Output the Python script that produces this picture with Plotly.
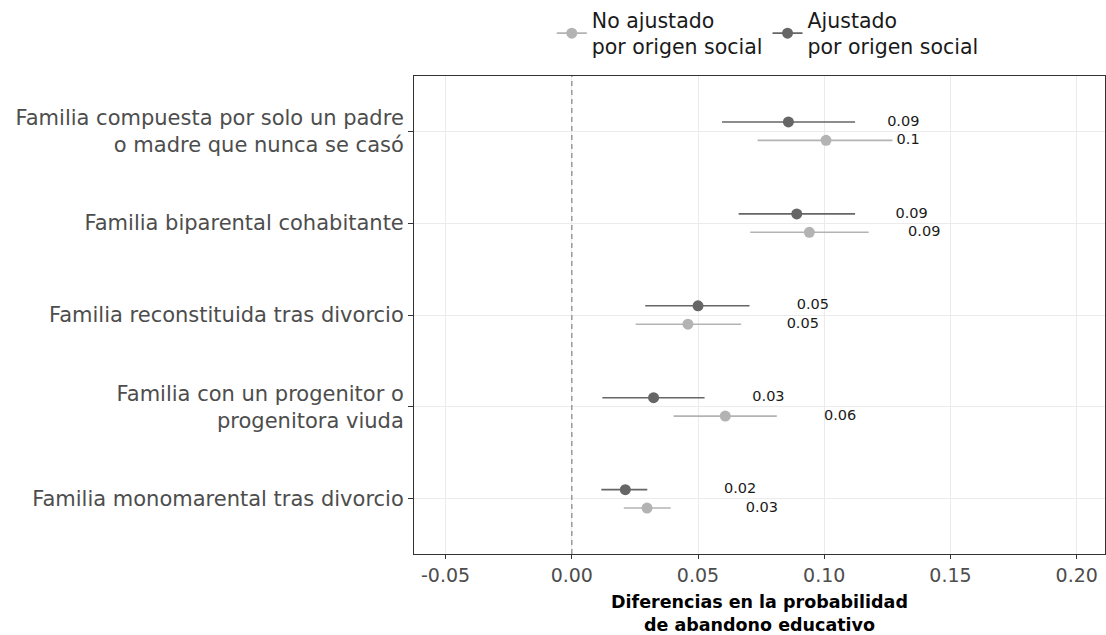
import plotly.graph_objects as go

categories = [
    "Familia monomarental tras divorcio",
    "Familia con un progenitor o<br>progenitora viuda",
    "Familia reconstituida tras divorcio",
    "Familia biparental cohabitante",
    "Familia compuesta por solo un padre<br>o madre que nunca se casó",
]
# No ajustado por origen social
est_no = [0.0298, 0.0608, 0.0460, 0.0941, 0.1007]
lo_no = [0.0206, 0.0403, 0.0253, 0.0707, 0.0736]
hi_no = [0.0392, 0.0812, 0.0671, 0.1176, 0.1270]
lab_no = ["0.03", "0.06", "0.05", "0.09", "0.1"]
nudge_no = [0.0455, 0.0455, 0.0455, 0.0455, 0.0325]
# Ajustado por origen social
est_aj = [0.0212, 0.0324, 0.0500, 0.0891, 0.0858]
lo_aj = [0.0117, 0.0121, 0.0291, 0.0661, 0.0595]
hi_aj = [0.0299, 0.0526, 0.0704, 0.1122, 0.1122]
lab_aj = ["0.02", "0.03", "0.05", "0.09", "0.09"]
nudge_aj = [0.0455, 0.0455, 0.0455, 0.0455, 0.0455]

series_names = ["No ajustado<br>por origen social", "Ajustado<br>por origen social"]
colors = ["#b3b3b3", "#666666"]
x_ticks = [-0.05, 0.0, 0.05, 0.10, 0.15, 0.20]

pos = list(range(1, len(categories) + 1))
dodge = 0.1
y_no = [p - dodge for p in pos]
y_aj = [p + dodge for p in pos]

fig = go.Figure()

font_family = "DejaVu Sans, Liberation Sans, Arial, sans-serif"

for est, lo, hi, lab, nud, yy, col in [
    (est_no, lo_no, hi_no, lab_no, nudge_no, y_no, colors[0]),
    (est_aj, lo_aj, hi_aj, lab_aj, nudge_aj, y_aj, colors[1]),
]:
    fig.add_trace(go.Scatter(
        x=est, y=yy, mode="markers",
        marker=dict(color=col, size=11),
        error_x=dict(type="data", symmetric=False,
                     array=[h - e for h, e in zip(hi, est)],
                     arrayminus=[e - l for e, l in zip(est, lo)],
                     color=col, thickness=1.6, width=0),
        showlegend=False, hoverinfo="skip",
    ))
    fig.add_trace(go.Scatter(
        x=[e + n for e, n in zip(est, nud)], y=yy, mode="text",
        text=lab, textposition="middle center",
        textfont=dict(size=14.5, color="#1a1a1a", family=font_family),
        showlegend=False, hoverinfo="skip",
    ))

# legend-only traces
for col, name in zip(colors, series_names):
    fig.add_trace(go.Scatter(
        x=[None], y=[None], mode="lines+markers", name=name,
        line=dict(color=col, width=1.6), marker=dict(color=col, size=11),
    ))

fig.add_vline(x=0, line=dict(color="#999999", width=1.5, dash="5px,4px"))

fig.update_layout(
    width=1106, height=635,
    margin=dict(l=414, r=1, t=76, b=81, autoexpand=False),
    paper_bgcolor="white", plot_bgcolor="white",
    font=dict(family=font_family, color="#4d4d4d"),
    legend=dict(orientation="h", x=0.512, xanchor="center",
                yref="container", y=1.0, yanchor="top",
                font=dict(size=20.5, color="#1a1a1a"), itemwidth=30,
                tracegroupgap=0),
)
fig.update_xaxes(
    automargin=False,
    range=[-0.0625, 0.2112], tickvals=x_ticks,
    ticktext=[f"{v:.2f}" for v in x_ticks],
    tickfont=dict(size=19, color="#4d4d4d"),
    showgrid=True, gridcolor="#ebebeb", gridwidth=1.2,
    zeroline=False, showline=True, linecolor="#333333", linewidth=1, mirror=True,
    ticks="outside", ticklen=4, tickcolor="#333333",
    title=dict(text="<b>Diferencias en la probabilidad</b><br><b>de abandono educativo</b>",
               font=dict(size=17.5, color="#000000"), standoff=19),
)
fig.update_yaxes(
    automargin=False,
    range=[0.4, 5.6], tickvals=pos, ticktext=categories,
    tickfont=dict(size=21, color="#4d4d4d"),
    showgrid=True, gridcolor="#ebebeb", gridwidth=1.2,
    zeroline=False, showline=True, linecolor="#333333", linewidth=1, mirror=True,
    ticks="outside", ticklen=5, tickcolor="#333333",
)

fig.write_html("out.html", config={"displayModeBar": False},
               post_script="document.body.style.margin='0px';")
